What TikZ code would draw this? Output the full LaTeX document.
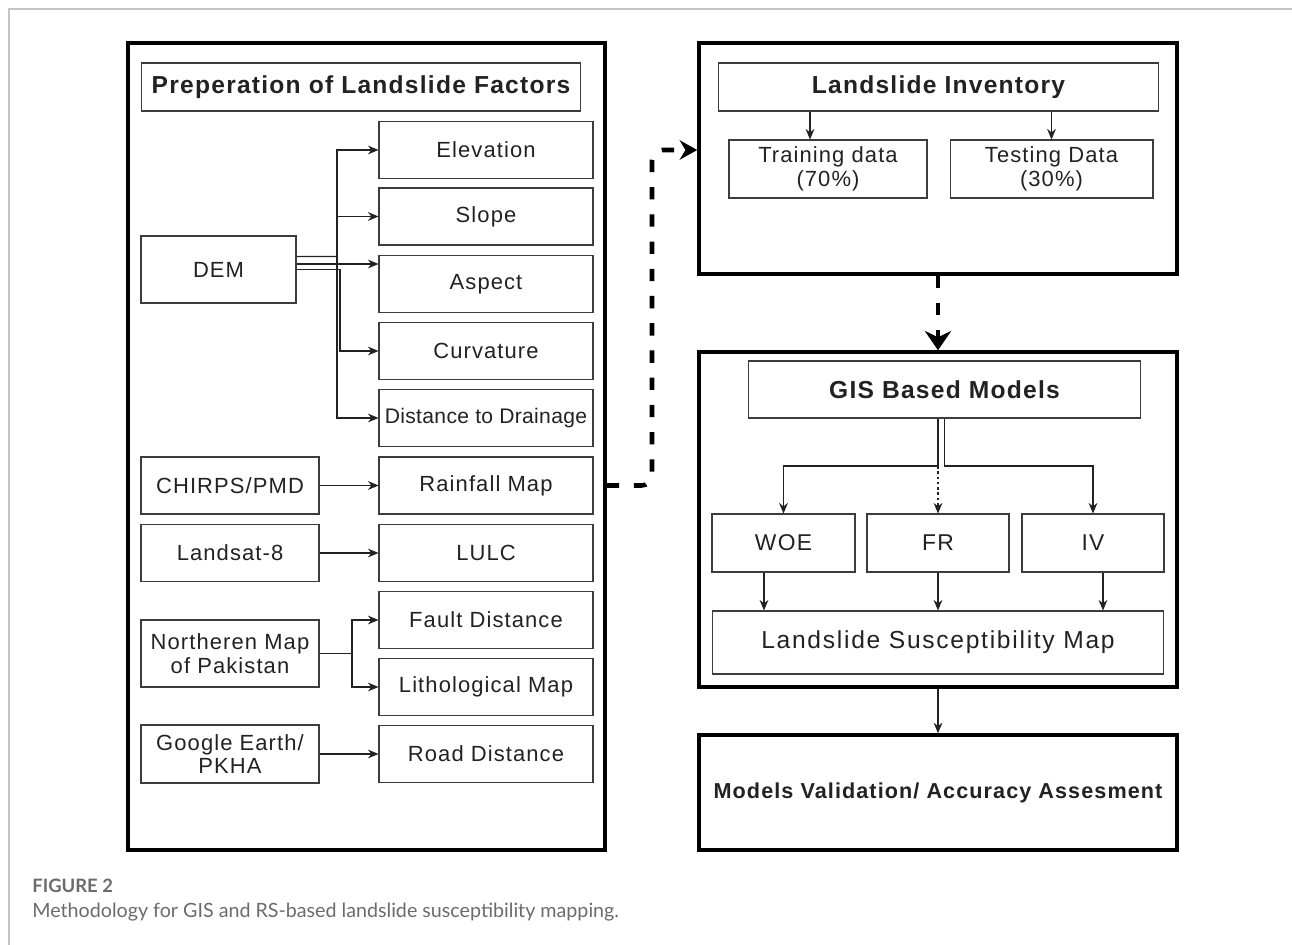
\documentclass[tikz,border=0pt]{standalone}
\usepackage{fontspec}
\setmainfont{Liberation Sans}
\newfontfamily\capfont{Lato}
\usepackage{xcolor}
\usetikzlibrary{positioning, arrows.meta, shapes}
\definecolor{ink}{HTML}{222222}
\definecolor{edge}{HTML}{3C3C3C}
\definecolor{capgray}{HTML}{6B6B6B}
\definecolor{rulegray}{HTML}{C4C4C4}

\begin{document}
\begin{tikzpicture}[x=0.02cm, y=-0.02cm,
    box/.style={draw=edge, line width=0.6pt, text=ink, align=center, inner sep=1pt,
      font=\fontsize{12.5}{13.5}\selectfont\addfontfeature{LetterSpace=5}},
    factor/.style={box, minimum width=4.28cm, minimum height=1.14cm},
    source/.style={box, minimum width=3.56cm, minimum height=1.14cm},
    model/.style={box, minimum width=2.84cm, minimum height=1.16cm, font=\fontsize{13}{14}\selectfont\addfontfeature{LetterSpace=6}},
    title/.style={box, font=\fontsize{14}{16}\selectfont\bfseries\addfontfeature{LetterSpace=5}},
    frame/.style={draw=black, line width=2pt, text=ink, align=center, minimum width=9.56cm},
    link/.style={draw=ink, line width=0.6pt},
    arr/.style={link, -{Stealth[length=6pt,width=5pt]}},
    flow/.style={draw=black, line width=2.6pt, dash pattern=on 7pt off 8.5pt}]
  \useasboundingbox (0,0) rectangle (1292,945);
  \draw[rulegray, line width=0.6pt] (9,945) -- (9,9) -- (1292,9);

  % left panel: factors
  \node[frame, minimum width=9.54cm, minimum height=16.14cm] (facbox) at (366.5,446.5) {};
  \node[title, minimum width=8.8cm, minimum height=0.96cm] (facttl) at (361,87) {Preperation of Landslide Factors};
  \foreach \y/\n/\t in {150/elev/Elevation, 216.5/slope/Slope, 284/aspect/Aspect, 351/curv/Curvature,
      485.5/rain/Rainfall Map, 553/lulc/LULC, 620/fault/Fault Distance,
      687/litho/Lithological Map, 754/road/Road Distance}
    \node[factor] (\n) at (486,\y) {\t};
  \node[factor, font=\fontsize{12}{13}\selectfont\addfontfeature{LetterSpace=1.5}] (drain) at (486,418) {Distance to Drainage};
  \node[source, minimum width=3.1cm, minimum height=1.34cm] (dem) at (218.5,269.5) {DEM};
  \node[source] (chirps) at (230,485.5) {CHIRPS/PMD};
  \node[source] (landsat) at (230,553) {Landsat-8};
  \node[source, minimum height=1.34cm] (north) at (230,653.5) {Northeren Map\\of Pakistan};
  \node[source, minimum height=1.16cm] (google) at (230,754) {Google Earth/\\PKHA};

  % DEM derivatives
  \coordinate (demtrunk) at (337,256.5);
  \draw[link] ([yshift=0.26cm]dem.east) -- (demtrunk);
  \draw[arr] (demtrunk) |- (elev.west);
  \draw[arr] (demtrunk |- slope.west) -- (slope.west);
  \draw[arr] (demtrunk) |- (drain.west);
  \draw[arr] ([yshift=0.11cm]dem.east) -- ([yshift=0.11cm]dem.east -| aspect.west);
  \draw[arr] (dem.east) -- (340,269.5) |- (curv.west);
  \draw[arr] (chirps) -- (rain);
  \draw[arr] (landsat) -- (lulc);
  \coordinate (northfork) at (352,653.5);
  \draw[link] (north.east) -- (northfork);
  \draw[arr] (northfork) |- (fault.west);
  \draw[arr] (northfork) |- (litho.west);
  \draw[arr] (google) -- (road);

  % inventory
  \node[frame, minimum height=4.62cm] (invbox) at (938,158.5) {};
  \node[title, minimum width=8.82cm, minimum height=0.96cm] (invttl) at (938.5,87) {Landslide Inventory};
  \node[box, minimum width=3.96cm, minimum height=1.16cm] (train) at (828,169) {Training data\\(70\%)};
  \node[box, minimum width=4.06cm, minimum height=1.16cm] (test) at (1051.5,169) {Testing Data\\(30\%)};
  \draw[arr] (invttl.south -| 810,0) -- (train.north -| 810,0);
  \draw[arr] (invttl.south -| test.north) -- (test.north);

  % models
  \node[frame, minimum height=6.7cm] (gisbox) at (938,519.5) {};
  \node[title, minimum width=7.86cm, minimum height=1.14cm] (gisttl) at (944.5,389.5) {GIS Based Models};
  \node[model, minimum width=2.86cm] (woe) at (783.5,543) {WOE};
  \node[model] (fr) at (938,543) {FR};
  \node[model] (iv) at (1093,543) {IV};
  \node[box, minimum width=9.04cm, minimum height=1.26cm, font=\fontsize{14}{16}\selectfont\addfontfeature{LetterSpace=7}] (lsm) at (938,642.5) {Landslide Susceptibility Map};
  \coordinate (gissplitL) at (938,466);
  \coordinate (gissplitR) at (944.5,466);
  \draw[arr] (gisttl.south -| gissplitL) -- (gissplitL) -| (woe.north);
  \draw[arr] (gisttl.south) -- (gissplitR) -| (iv.north);
  \draw[arr, dash pattern=on 1.5pt off 1.5pt] (gissplitL) -- (fr.north);
  \draw[arr] (woe.south -| 764,0) -- (lsm.north -| 764,0);
  \draw[arr] (fr.south) -- (lsm.north);
  \draw[arr] (iv.south -| 1103,0) -- (lsm.north -| 1103,0);

  % validation
  \node[frame, minimum height=2.3cm, font=\fontsize{12.3}{14}\selectfont\bfseries\addfontfeature{LetterSpace=5}] (valbox) at (938,792.5) {Models Validation/ Accuracy Assesment};
  \draw[arr] (gisbox.south) -- (valbox.north);

  % main flow
  \draw[flow, rounded corners=6pt, -{Stealth[length=10pt,width=11pt]}] (rain.east -| facbox.east) -- (652,485.5) -- (652,150) -- (elev.east -| invbox.west);
  \draw[flow, -{Stealth[length=11pt,width=15pt]}] (invbox.south) -- (gisbox.north);

  % caption
  \node[anchor=west, inner sep=0pt, text=capgray, font=\capfont\bfseries\fontsize{10.5}{12}\selectfont] (figno) at (32,886) {FIGURE 2};
  \node[anchor=west, inner sep=0pt, text=capgray, font=\capfont\fontsize{11.2}{13}\selectfont] (figcap) at (32,912) {Methodology for GIS and RS-based landslide susceptibility mapping.};
\end{tikzpicture}
\end{document}
